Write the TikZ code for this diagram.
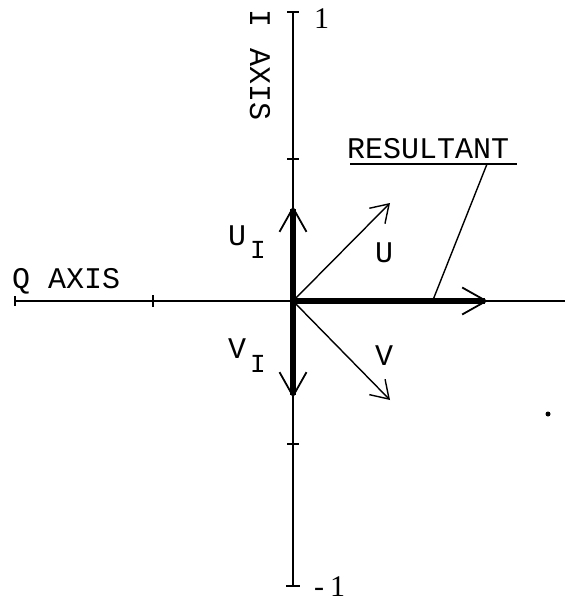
\documentclass[tikz,border=0pt]{standalone}
\usepackage{fontspec}
\newfontfamily\plotfont{Liberation Mono}
\newfontfamily\numfont{Liberation Serif}
\usetikzlibrary{arrows.meta}
\begin{document}
\begin{tikzpicture}[x=1pt,y=-1pt,
  axisline/.style={line width=1.6pt},
  tickmark/.style={line width=1.8pt},
  thinvec/.style={line width=1.4pt,-{Straight Barb[length=17pt,width=22pt,line width=1.4pt]}},
  thickvec/.style={line width=5.5pt,-{Straight Barb[length=24pt,width=27pt,line width=1.8pt]}},
  lbl/.style={inner sep=0pt,font=\plotfont\fontsize{30}{30}\selectfont},
  sub/.style={inner sep=0pt,font=\plotfont\fontsize{26}{26}\selectfont},
  numlbl/.style={inner sep=0pt,font=\numfont\fontsize{30}{30}\selectfont}]
\useasboundingbox (0,0) rectangle (565,602);
% axes
\coordinate (O) at (293,301);
\coordinate (itop) at (293,12);
\coordinate (ibot) at (293,586);
\coordinate (qleft) at (15,301);
\coordinate (qright) at (565,301);
\draw[axisline] (itop) -- (ibot);
\draw[axisline] (qleft) -- (qright);
% ticks
\draw[tickmark] (287,12) -- (299,12);
\draw[tickmark] (286,586) -- (300,586);
\draw[tickmark] (287,159) -- (299,159);
\draw[tickmark] (287,444) -- (299,444);
\draw[tickmark] (15,296) -- (15,306);
\draw[tickmark] (153,295) -- (153,307);
% vectors
\coordinate (uitip) at (293,206);
\coordinate (vitip) at (293,398);
\coordinate (rtip) at (488,301);
\coordinate (utip) at (390,203);
\coordinate (vtip) at (390,400);
\draw[thickvec] (O) -- (uitip);
\draw[thickvec] (O) -- (vitip);
\draw[thickvec] (O) -- (rtip);
\draw[thinvec] (O) -- (utip);
\draw[thinvec] (O) -- (vtip);
% labels
\node[lbl,anchor=base west] (qaxis) at (12,288) {Q AXIS};
\node[lbl,anchor=base west,rotate=-90] (iaxis) at (250,9) {I\hspace{3pt} AXIS};
\node[numlbl,anchor=base west] (one) at (314,29) {1};
\node[numlbl,anchor=base west] (mone) at (314,596) {-\hspace{6pt}1};
\node[lbl,anchor=base west] (res) at (347,158) {RESULTANT};
\coordinate (ulA) at (350,164);
\coordinate (ulB) at (517,164);
\draw[line width=1.4pt] (ulA) -- (ulB);
\coordinate (leadtop) at (487,164);
\coordinate (leadbot) at (433,300);
\draw[line width=1.4pt] (leadtop) -- (leadbot);
\node[lbl,anchor=base west] (ui) at (228,245) {U};
\node[sub,anchor=base west] (uisub) at (250,258) {I};
\node[lbl,anchor=base west] (u) at (375,262) {U};
\node[lbl,anchor=base west] (vi) at (228,358) {V};
\node[sub,anchor=base west] (visub) at (250,372) {I};
\node[lbl,anchor=base west] (v) at (375,365) {V};
% stray dot
\fill (548,414) circle (2.5pt);
\end{tikzpicture}
\end{document}
